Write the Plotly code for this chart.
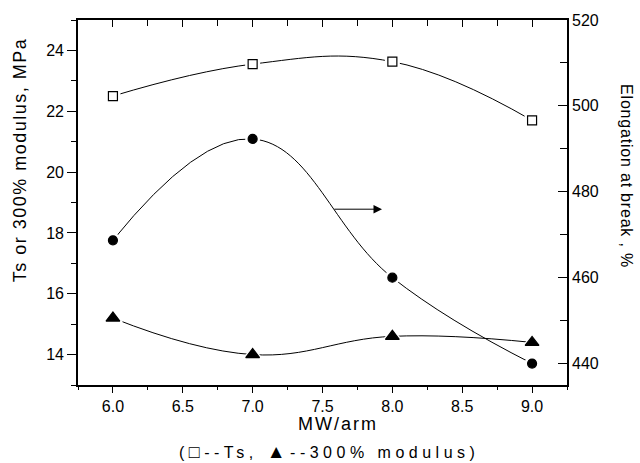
import plotly.graph_objects as go

# ---- data ----
mw = [6.0, 7.0, 8.0, 9.0]
ts = [22.5, 23.55, 23.63, 21.7]            # MPa (left axis), open squares
modulus = [15.2, 14.0, 14.6, 14.4]         # MPa (left axis), filled triangles
elongation = [468.7, 492.3, 460.0, 440.0]  # % (right axis), filled circles

x_ticks = [6.0, 6.5, 7.0, 7.5, 8.0, 8.5, 9.0]
left_ticks = [14, 16, 18, 20, 22, 24]
right_ticks = [440, 460, 480, 500, 520]

FONT = "Liberation Sans, Arial, sans-serif"

fig = go.Figure()

series = [
    (ts, "square", "white", 9, "x", "y"),
    (modulus, "triangle-up", "black", 12, "x", "y"),
    (elongation, "circle", "black", 9, "x2", "y2"),
]

# curves
for vals, sym, fill, size, xa, ya in series:
    fig.add_trace(go.Scatter(x=mw, y=vals, mode="lines", xaxis=xa, yaxis=ya,
                             line=dict(color="black", width=1, shape="spline", smoothing=1.2),
                             hoverinfo="skip", showlegend=False))
# white halos (line gaps around markers)
for vals, sym, fill, size, xa, ya in series:
    fig.add_trace(go.Scatter(x=mw, y=vals, mode="markers", xaxis=xa, yaxis=ya,
                             marker=dict(symbol=sym, size=size + 6, color="white",
                                         line=dict(width=0)),
                             hoverinfo="skip", showlegend=False))
# markers
for vals, sym, fill, size, xa, ya in series:
    fig.add_trace(go.Scatter(x=mw, y=vals, mode="markers", xaxis=xa, yaxis=ya,
                             marker=dict(symbol=sym, size=size, color=fill,
                                         line=dict(color="black", width=1.2)),
                             showlegend=False))

axis_common = dict(showgrid=False, zeroline=False, showline=True, linecolor="black",
                   linewidth=1.6, tickcolor="black", tickwidth=1.3,
                   tickfont=dict(family=FONT, size=16, color="black"))

fig.update_layout(
    width=640, height=463,
    margin=dict(l=78, r=73, t=16, b=78),
    paper_bgcolor="white", plot_bgcolor="white",
    font=dict(family=FONT, color="black"),
    xaxis=dict(range=[5.75, 9.25], tickvals=x_ticks, tickformat=".1f",
               ticks="outside", ticklen=6,
               minor=dict(dtick=0.25, tick0=6.0, ticks="outside", ticklen=3,
                          tickcolor="black", tickwidth=1.2),
               **axis_common),
    xaxis2=dict(range=[5.75, 9.25], overlaying="x", side="top", matches="x",
                tickvals=x_ticks, ticks="inside", ticklen=7, showticklabels=False,
                minor=dict(dtick=0.25, tick0=6.0, ticks="inside", ticklen=6,
                           tickcolor="black", tickwidth=1.2),
                **axis_common),
    yaxis=dict(range=[13, 25], tickvals=left_ticks, ticks="outside", ticklen=9,
               minor=dict(dtick=1, tick0=13, ticks="outside", ticklen=5,
                          tickcolor="black", tickwidth=1.2),
               **axis_common),
    yaxis2=dict(range=[435, 520], overlaying="y", side="right", anchor="x2",
                tickvals=right_ticks, ticks="inside", ticklen=9,
                minor=dict(dtick=10, tick0=430, ticks="inside", ticklen=7,
                           tickcolor="black", tickwidth=1.2),
                **axis_common),
)

fig.add_annotation(x=7.926, y=18.78, ax=7.574, ay=18.78, xref="x", yref="y",
                   axref="x", ayref="y", text="", showarrow=True,
                   arrowhead=2, arrowsize=1.7, arrowwidth=1, arrowcolor="black")

fig.add_annotation(x=0.532, y=-0.108, xref="paper", yref="paper",
                   text="<span style='letter-spacing:2px'>MW/arm</span>",
                   showarrow=False, font=dict(family=FONT, size=18),
                   xanchor="center", yanchor="middle")
fig.add_annotation(x=0.513, y=-0.182, xref="paper", yref="paper",
                   text=("<span style='letter-spacing:4.5px'>(<span style='font-size:18px'>□</span>--Ts, "
                         "<span style='font-size:19px'>▲</span>--300% modulus)</span>"),
                   showarrow=False, font=dict(family=FONT, size=16),
                   xanchor="center", yanchor="middle")
fig.add_annotation(x=-0.117, y=0.618, xref="paper", yref="paper",
                   text="<span style='letter-spacing:1.5px'>Ts or 300% modulus, MPa</span>",
                   textangle=-90, showarrow=False, font=dict(family=FONT, size=18),
                   xanchor="center", yanchor="middle")
fig.add_annotation(x=1.123, y=0.572, xref="paper", yref="paper",
                   text="<span style='letter-spacing:0.8px'>Elongation at break , %</span>",
                   textangle=90, showarrow=False, font=dict(family=FONT, size=16),
                   xanchor="center", yanchor="middle")

fig.write_html("out.html")
